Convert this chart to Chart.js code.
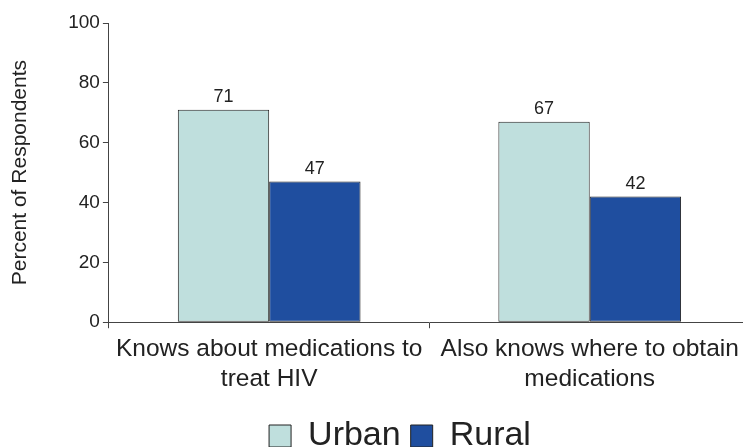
<!DOCTYPE html>
<html>
<head>
<meta charset="utf-8">
<script src="https://cdn.jsdelivr.net/npm/chart.js@4/dist/chart.umd.min.js"></script>
<style>
  html, body { margin: 0; padding: 0; background: #fff; overflow: hidden; }
  #wrap { width: 760px; height: 447px; }
</style>
</head>
<body>
<div id="wrap"><canvas id="chart"></canvas></div>
<script>
/* données */
const categories = [
  ['Knows about medications to', 'treat HIV'],
  ['Also knows where to obtain', 'medications']
];
const urbanValues = [71, 67];
const ruralValues = [47, 42];
const yTicks = [0, 20, 40, 60, 80, 100];

const FONT = 'Liberation Sans, Arial, sans-serif';

// étiquettes au-dessus des barres
const barLabels = {
  id: 'barLabels',
  afterDatasetsDraw(chart) {
    const ctx = chart.ctx;
    ctx.save();
    ctx.font = '18px ' + FONT;
    ctx.fillStyle = '#222';
    ctx.textAlign = 'center';
    ctx.textBaseline = 'bottom';
    chart.data.datasets.forEach((ds, i) => {
      chart.getDatasetMeta(i).data.forEach((bar, j) => {
        ctx.fillText(ds.data[j], bar.x, bar.y - 4);
      });
    });
    ctx.restore();
  }
};

// décale la légende (droite / bas)
const legendShift = {
  id: 'legendShift',
  afterLayout(chart) {
    const lg = chart.legend;
    lg.left += 21; lg.right += 21;
    lg.top += 9; lg.bottom += 9;
  }
};

new Chart(document.getElementById('chart'), {
  type: 'bar',
  data: {
    labels: categories,
    datasets: [
      {
        label: 'Urban',
        data: urbanValues,
        backgroundColor: '#bfdfdd',
        borderColor: '#222',
        borderWidth: 1,
        borderSkipped: false
      },
      {
        label: 'Rural',
        data: ruralValues,
        backgroundColor: '#1f4e9f',
        borderColor: '#222',
        borderWidth: 1,
        borderSkipped: false
      }
    ]
  },
  options: {
    responsive: true,
    maintainAspectRatio: false,
    animation: false,
    layout: { padding: { top: 23, right: 10, left: 8, bottom: -7 } },
    datasets: { bar: { categoryPercentage: 0.57, barPercentage: 1 } },
    plugins: {
      tooltip: { enabled: false },
      legend: {
        position: 'bottom',
        labels: {
          color: '#222',
          font: { family: FONT, size: 34 },
          boxWidth: 22,
          boxHeight: 22,
          padding: 10
        }
      }
    },
    scales: {
      x: {
        grid: { display: true, drawOnChartArea: false, tickLength: 6, color: '#444' },
        border: { color: '#444', width: 1 },
        ticks: { color: '#222', font: { family: FONT, size: 24.5, lineHeight: 1.22 }, padding: 6, maxRotation: 0 }
      },
      y: {
        min: 0,
        max: 100,
        afterBuildTicks(axis) { axis.ticks = yTicks.map(v => ({ value: v })); },
        grid: { display: true, drawOnChartArea: false, tickLength: 6, color: '#444' },
        border: { color: '#444', width: 1 },
        ticks: { color: '#222', font: { family: FONT, size: 19 }, padding: 3 },
        title: {
          display: true,
          text: 'Percent of Respondents',
          color: '#222',
          font: { family: FONT, size: 21 },
          padding: { top: 0, bottom: 32 }
        }
      }
    }
  },
  plugins: [barLabels, legendShift]
});
</script>
</body>
</html>
